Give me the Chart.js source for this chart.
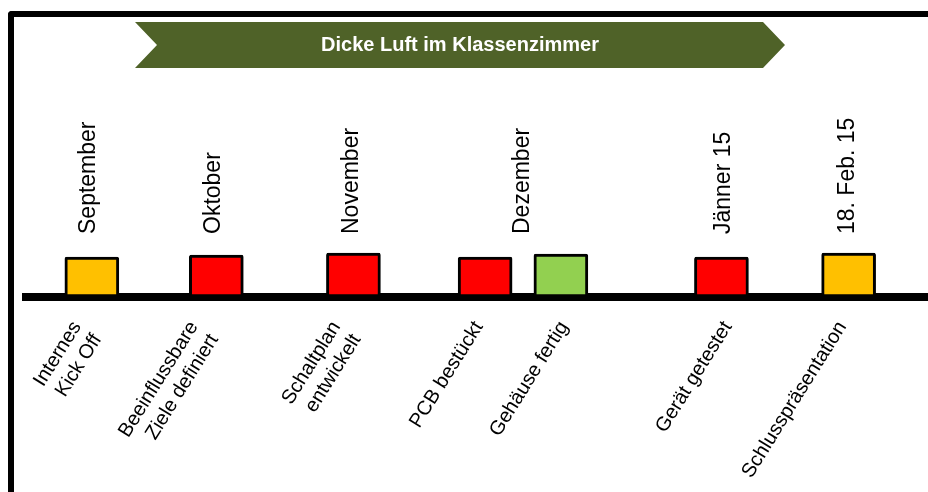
<!DOCTYPE html>
<html>
<head>
<meta charset="utf-8">
<script src="https://cdn.jsdelivr.net/npm/chart.js@4/dist/chart.umd.min.js"></script>
<style>
  html, body { margin: 0; padding: 0; background: #fff; overflow: hidden; }
  #wrap { position: relative; width: 928px; height: 492px; }
  #frame {
    position: absolute; left: 8px; top: 11px; width: 1000px; height: 600px;
    border-left: 6px solid #000; border-top: 6px solid #000;
    border-top-left-radius: 4px; box-sizing: border-box;
  }
  canvas { position: absolute; left: 0; top: 0; }
</style>
</head>
<body>
<div id="wrap">
  <div id="frame"></div>
  <canvas id="timelineChart" width="928" height="492"></canvas>
</div>
<script>
// timeline positions, in % of the timeline width
const milestonePos = [7.3, 21.1, 36.3, 50.9, 59.3, 77.1, 91.2];
const milestoneHeights = [40, 42, 44, 40, 43, 40, 44];
const milestoneStatus = ['gelb', 'rot', 'rot', 'rot', 'gruen', 'rot', 'gelb'];
const milestoneLabels = [
  ['Internes', 'Kick Off'],
  ['Beeinflussbare', 'Ziele definiert'],
  ['Schaltplan', 'entwickelt'],
  'PCB bestückt',
  'Gehäuse fertig',
  'Gerät getestet',
  'Schlusspräsentation'
];
const milestoneLabelPos = [5.65, 18.6, 34.4, 50.2, 59.65, 77.8, 90.5];
const monthLabels = ['September', 'Oktober', 'November', 'Dezember', 'Jänner 15', '18. Feb. 15'];
const monthPos = [6.8, 20.7, 36.0, 54.9, 77.2, 90.9];

const statusColors = { gelb: '#FFC000', rot: '#FF0000', gruen: '#92D050' };
const fontFamily = "'Liberation Sans', Arial, sans-serif";

// green chevron behind the title
const bannerPlugin = {
  id: 'banner',
  afterLayout(chart) {
    const t = chart.titleBlock;
    t.left = 135;
    t.right = 785;
    t.width = 650;
  },
  beforeDraw(chart) {
    const ctx = chart.ctx;
    ctx.save();
    ctx.fillStyle = '#4F6228';
    ctx.beginPath();
    ctx.moveTo(135, 22);
    ctx.lineTo(763, 22);
    ctx.lineTo(785, 45);
    ctx.lineTo(763, 68);
    ctx.lineTo(135, 68);
    ctx.lineTo(157, 45);
    ctx.closePath();
    ctx.fill();
    ctx.restore();
  }
};

const noPadding = scale => { scale.paddingLeft = 0; scale.paddingRight = 0; };

const timelineChart = new Chart(document.getElementById('timelineChart'), {
  type: 'bar',
  data: {
    datasets: [{
      label: 'Meilensteine',
      data: milestonePos.map((x, i) => ({ x: x, y: milestoneHeights[i] })),
      backgroundColor: milestoneStatus.map(s => statusColors[s]),
      borderColor: '#000',
      borderWidth: 3,
      borderSkipped: false,
      borderRadius: 2,
      barThickness: 54
    }]
  },
  options: {
    responsive: false,
    animation: false,
    layout: { padding: { left: 26, right: 0, top: 0, bottom: 0 } },
    plugins: {
      legend: { display: false },
      tooltip: { enabled: false },
      title: {
        display: true,
        text: 'Dicke Luft im Klassenzimmer',
        color: '#fff',
        font: { family: fontFamily, size: 20, weight: 'bold' },
        padding: { top: 33, bottom: 60 }
      }
    },
    scales: {
      x: {
        type: 'linear',
        position: 'bottom',
        offset: false,
        min: 0,
        max: 100,
        grid: { display: false, drawTicks: false, offset: false },
        border: { display: true, color: '#000', width: 8 },
        afterBuildTicks: scale => { scale.ticks = milestoneLabelPos.map(v => ({ value: v })); },
        afterFit: scale => { noPadding(scale); scale.height = 195; },
        ticks: {
          autoSkip: false,
          minRotation: 58,
          maxRotation: 58,
          padding: 20,
          color: '#000',
          font: { family: fontFamily, size: 20 },
          callback: (value, index) => milestoneLabels[index]
        }
      },
      x2: {
        type: 'linear',
        position: 'top',
        offset: false,
        min: 0,
        max: 100,
        grid: { display: false, drawTicks: false, offset: false },
        border: { display: false },
        afterBuildTicks: scale => { scale.ticks = monthPos.map(v => ({ value: v })); },
        afterFit: scale => { noPadding(scale); scale.height = 121; },
        ticks: {
          autoSkip: false,
          minRotation: 90,
          maxRotation: 90,
          padding: 4,
          labelOffset: 29,
          color: '#000',
          font: { family: fontFamily, size: 23 },
          callback: (value, index) => monthLabels[index]
        }
      },
      y: {
        display: false,
        min: 0,
        max: 59
      }
    }
  },
  plugins: [bannerPlugin]
});
</script>
</body>
</html>
